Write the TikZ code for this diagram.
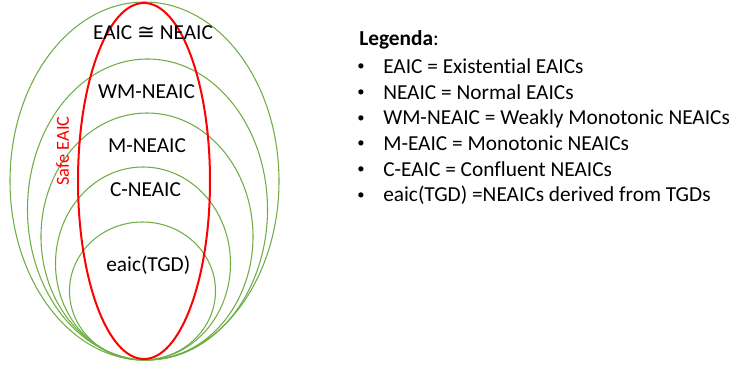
\documentclass[tikz,border=0pt]{standalone}
\usepackage{fontspec}
\setmainfont[Ligatures=NoCommon]{Carlito}
\newfontfamily\symfont{DejaVu Sans}
\definecolor{setgreen}{RGB}{112,173,71}
\definecolor{safered}{RGB}{255,0,0}
\begin{document}
\begin{tikzpicture}[x=0.75pt,y=-0.75pt,
  setline/.style={draw=setgreen,line width=0.8pt},
  saferline/.style={draw=safered,line width=1.5pt},
  lbl/.style={inner sep=0pt,anchor=base,font=\fontsize{16}{19}\selectfont},
  legtext/.style={inner sep=0pt,anchor=base west,font=\fontsize{16}{19}\selectfont},
  bul/.style={inner sep=0pt,anchor=center,font=\fontsize{11}{13}\selectfont}]
\useasboundingbox (0,0) rectangle (733,367);
% nested sets
\draw[setline] (144.5,181) ellipse [x radius=134.5, y radius=179];
\draw[setline] (147.5,209.5) ellipse [x radius=120, y radius=150.5];
\draw[setline] (147,236.5) ellipse [x radius=106, y radius=123.5];
\draw[setline] (143,263.5) ellipse [x radius=87.5, y radius=96.5];
\draw[setline] (142.5,291) ellipse [x radius=73, y radius=69];
% safe EAIC
\draw[saferline] (144,181) ellipse [x radius=66, y radius=178];
% labels
\node[lbl] (eaic) at (153,39.3) {EAIC {\symfont≅} NEAIC};
\node[lbl] (wm) at (146.5,99) {WM-NEAIC};
\node[lbl] (m) at (147,152.3) {M-NEAIC};
\node[lbl] (c) at (145.5,196.7) {C-NEAIC};
\node[lbl] (tgd) at (148.3,271.7) {eaic(TGD)};
\node[inner sep=0pt,anchor=base,rotate=90,text=safered,font=\fontsize{13.8}{16}\selectfont] (safe) at (69,151) {Safe EAIC};
% legend
\node[legtext] (leg) at (359,45.5) {\textbf{Legenda}:};
\foreach \i/\t in {0/{EAIC = Existential EAICs},1/{NEAIC = Normal EAICs},2/{WM-NEAIC = Weakly Monotonic NEAICs},3/{M-EAIC = Monotonic NEAICs},4/{C-EAIC = Confluent NEAICs},5/{eaic(TGD) =NEAICs derived from TGDs}}{
  \node[bul] (b\i) at (361,73.5+25.7*\i-6) {•};
  \node[legtext] (t\i) at (383,73.5+25.7*\i) {\t};
}
\end{tikzpicture}
\end{document}
